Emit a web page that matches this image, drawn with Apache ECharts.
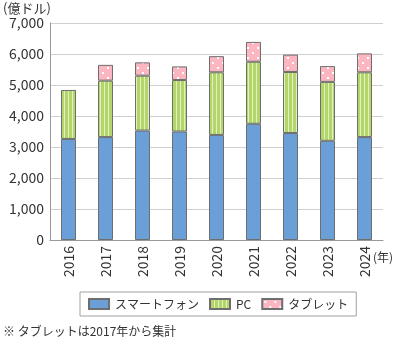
<!DOCTYPE html>
<html><head><meta charset="utf-8">
<script src="https://cdn.jsdelivr.net/npm/echarts@6/dist/echarts.min.js"></script>
<style>html,body{margin:0;padding:0;background:#fff}#c{width:393px;height:342px}</style>
</head><body><div id="c"></div>
<script>
const categories = ['2016','2017','2018','2019','2020','2021','2022','2023','2024'];
const smartphone = [3260, 3320, 3530, 3500, 3390, 3750, 3450, 3200, 3320];
const pc = [1580, 1820, 1770, 1660, 2020, 2000, 1970, 1900, 2090];
const tablet = ['-', 510, 430, 440, 520, 640, 560, 510, 610];
const seriesNames = ['スマートフォン', 'PC', 'タブレット'];
const yTicks = [0, 1000, 2000, 3000, 4000, 5000, 6000, 7000];

function stripePattern() {
  const c = document.createElement('canvas');
  c.width = 4; c.height = 4;
  const g = c.getContext('2d');
  g.fillStyle = '#b3d66a'; g.fillRect(0,0,4,4);
  g.fillStyle = '#e2f0c0'; g.fillRect(0,0,1,4);
  return c;
}
function dotPattern() {
  const c = document.createElement('canvas');
  c.width = 10; c.height = 10;
  const g = c.getContext('2d');
  g.fillStyle = '#fbb6c1'; g.fillRect(0,0,10,10);
  g.fillStyle = '#ffffff';
  g.fillRect(2,2,2,2); g.fillRect(7,7,2,2);
  return c;
}
const font = 'Noto Sans CJK JP';
const chart = echarts.init(document.getElementById('c'));
const border = {borderColor: '#6e6e6e', borderWidth: 1};
chart.setOption({
  animation: false,
  textStyle: {fontFamily: font},
  grid: {left: 50, right: 10, top: 23, bottom: 102},
  legend: {
    data: seriesNames, left: 80, top: 292, icon: 'rect',
    borderColor: '#a0a0a0', borderWidth: 1, padding: [6, 8, 6, 8],
    itemWidth: 20, itemHeight: 10, itemGap: 10,
    textStyle: {fontSize: 12, color: '#333', fontFamily: font, padding: [0, 0, 0, 1]}
  },
  xAxis: {
    type: 'category', data: categories,
    axisLine: {lineStyle: {color: '#999'}},
    axisTick: {inside: true, length: 4, lineStyle: {color: '#999'}},
    axisLabel: {rotate: 90, color: '#333', fontSize: 14, margin: 6, fontFamily: font}
  },
  yAxis: {
    type: 'value', min: yTicks[0], max: yTicks[yTicks.length-1], interval: 1000,
    axisLine: {show: true, lineStyle: {color: '#999'}},
    axisTick: {show: false},
    splitLine: {lineStyle: {color: '#d0d0d0'}},
    axisLabel: {color: '#333', fontSize: 14, margin: 6, fontFamily: font,
      formatter: v => v.toLocaleString('en-US')}
  },
  graphic: [
    {type: 'text', left: 3, top: 2, style: {text: '(億ドル)', fontSize: 13, fill: '#333', fontFamily: font}},
    {type: 'text', left: 373, top: 251, style: {text: '(年)', fontSize: 12, fill: '#333', fontFamily: font}},
    {type: 'text', left: 3, top: 325, style: {text: '※ タブレットは2017年から集計', fontSize: 12, fill: '#333', fontFamily: font}}
  ],
  series: [
    {name: seriesNames[0], type: 'bar', stack: 't', data: smartphone, barWidth: 15,
     itemStyle: Object.assign({color: '#6a9fd8'}, border)},
    {name: seriesNames[1], type: 'bar', stack: 't', data: pc, barWidth: 15,
     itemStyle: Object.assign({color: {image: stripePattern(), repeat: 'repeat'}}, border)},
    {name: seriesNames[2], type: 'bar', stack: 't', data: tablet, barWidth: 15,
     itemStyle: Object.assign({color: {image: dotPattern(), repeat: 'repeat'}}, border)}
  ]
});
</script></body></html>
